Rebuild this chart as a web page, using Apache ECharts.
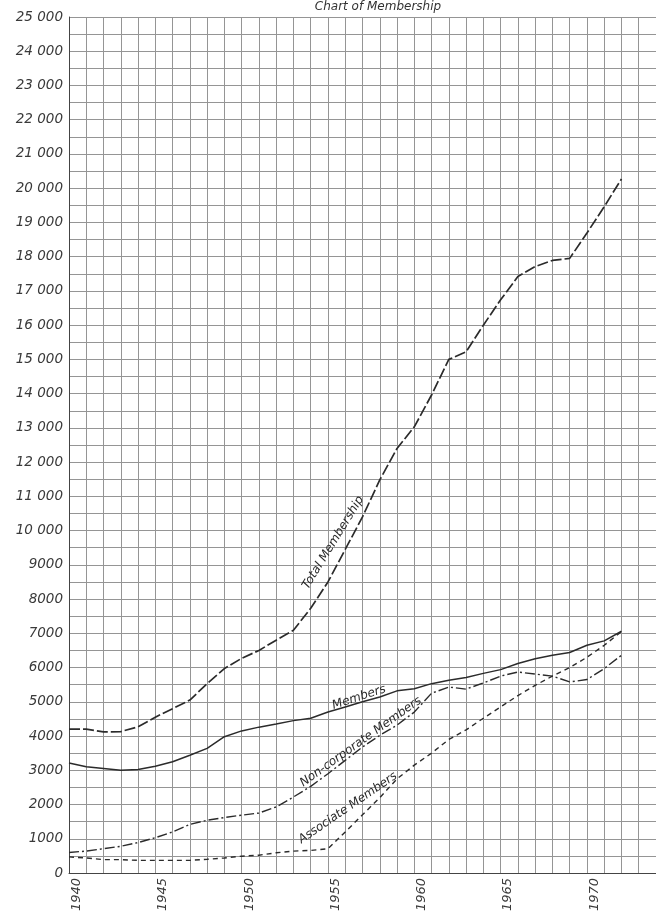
<!DOCTYPE html>
<html><head><meta charset="utf-8">
<script src="https://cdn.jsdelivr.net/npm/echarts@6.0.0/dist/echarts.min.js"></script>
<style>html,body{margin:0;padding:0;background:#fff}#c{width:656px;height:915px}</style>
</head><body><div id="c"></div>
<script>
const years = [1940,1941,1942,1943,1944,1945,1946,1947,1948,1949,1950,1951,1952,1953,1954,1955,1956,1957,1958,1959,1960,1961,1962,1963,1964,1965,1966,1967,1968,1969,1970,1971,1972];
const totalMembership = [4200,4200,4120,4130,4270,4550,4800,5050,5530,5970,6270,6500,6800,7090,7730,8500,9450,10400,11480,12400,13030,13960,15000,15220,16000,16740,17420,17710,17890,17950,18690,19460,20270];
const members = [3210,3100,3050,3000,3020,3120,3250,3440,3640,3980,4150,4260,4350,4450,4520,4700,4850,5000,5140,5320,5380,5530,5630,5710,5830,5940,6120,6260,6360,6440,6650,6780,7060];
const nonCorporate = [600,640,710,780,890,1030,1200,1420,1540,1620,1690,1750,1930,2220,2530,2900,3290,3680,4020,4320,4700,5250,5430,5370,5550,5750,5870,5810,5750,5580,5650,5970,6360];
const associate = [470,440,390,390,370,370,370,370,400,440,490,520,590,640,660,710,1200,1700,2200,2750,3150,3500,3900,4180,4520,4850,5180,5480,5750,6000,6300,6650,7050];
const xTickLabels = [1940,1945,1950,1955,1960,1965,1970];
const titleText = 'Chart of Membership';
// series labels: text, anchor year, anchor value, angle (deg)
const seriesLabels = [
  ['Total Membership', 1955.3, 9650, 58.5],
  ['Members', 1956.8, 5130, 18],
  ['Non-corporate Members', 1956.9, 3830, 35.5],
  ['Associate Members', 1956.15, 1900, 34.5]
];

const FONT = 'DejaVu Sans';
const INK = '#2b2b2b';
const chart = echarts.init(document.getElementById('c'));
const pts = arr => years.map((y, i) => [y, arr[i]]);
function fmtY(v){
  if (v % 1000 !== 0) return '';
  if (v >= 10000) return String(v).slice(0, -3) + ' 000';
  return String(v);
}
chart.setOption({
  animation: false,
  backgroundColor: '#fff',
  grid: {left: 69, right: 0, top: 17, bottom: 42},
  xAxis: {
    type: 'value', min: 1940, max: 1974, interval: 1,
    axisLine: {show: true, lineStyle: {color: '#444', width: 1}},
    axisTick: {show: false},
    splitLine: {show: true, lineStyle: {color: '#959595', width: 1}},
    axisLabel: {
      rotate: 90, margin: 5, fontFamily: FONT, fontStyle: 'italic', fontSize: 13, color: '#3a3a3a',
      verticalAlign: 'top', lineHeight: 15,
      formatter: v => xTickLabels.indexOf(v) >= 0 ? String(v) : ''
    }
  },
  yAxis: {
    type: 'value', min: 0, max: 25000, interval: 500,
    axisLine: {show: true, lineStyle: {color: '#444', width: 1}},
    axisTick: {show: false},
    splitLine: {show: true, lineStyle: {color: '#959595', width: 1}},
    axisLabel: {margin: 6, fontFamily: FONT, fontStyle: 'italic', fontSize: 13.5, color: '#3a3a3a', formatter: fmtY}
  },
  series: [
    {name: 'Total Membership', type: 'line', data: pts(totalMembership), symbol: 'none', lineStyle: {color: INK, width: 1.7, type: [11, 3]}},
    {name: 'Members', type: 'line', data: pts(members), symbol: 'none', lineStyle: {color: INK, width: 1.5, type: 'solid'}},
    {name: 'Non-corporate Members', type: 'line', data: pts(nonCorporate), symbol: 'none', lineStyle: {color: INK, width: 1.4, type: [10, 3, 2, 3]}},
    {name: 'Associate Members', type: 'line', data: pts(associate), symbol: 'none', lineStyle: {color: INK, width: 1.4, type: [5, 4]}}
  ]
});
const g = [{
  type: 'text', x: 378, y: 1,
  style: {text: titleText, textAlign: 'center', textVerticalAlign: 'top', font: 'italic 12px "' + FONT + '"', fill: '#333'}
}];
seriesLabels.forEach(([t, yr, val, ang]) => {
  const p = chart.convertToPixel({gridIndex: 0}, [yr, val]);
  g.push({
    type: 'text', x: p[0], y: p[1], rotation: ang * Math.PI / 180,
    style: {text: t, textAlign: 'center', textVerticalAlign: 'middle', font: 'italic 12px "' + FONT + '"', fill: INK}
  });
});
chart.setOption({graphic: g});
</script></body></html>
